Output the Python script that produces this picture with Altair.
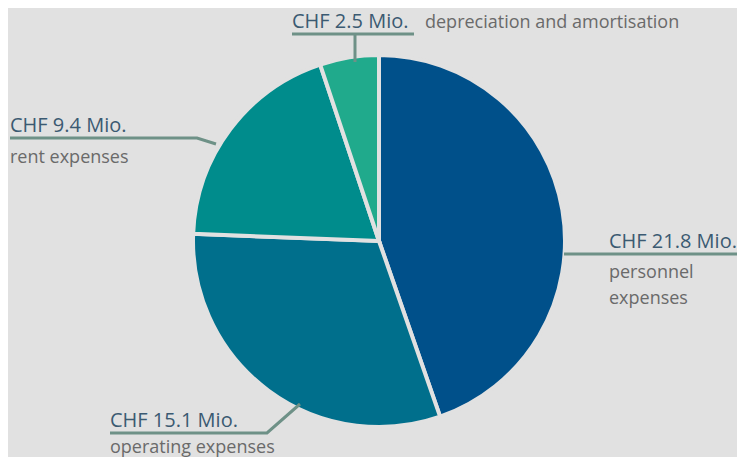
import altair as alt
import pandas as pd

# ---- data ----
categories = ["personnel expenses", "operating expenses", "rent expenses",
              "depreciation and amortisation"]
values = [21.8, 15.1, 9.4, 2.5]
value_labels = ["CHF 21.8 Mio.", "CHF 15.1 Mio.", "CHF 9.4 Mio.", "CHF 2.5 Mio."]
desc_lines = [["personnel", "expenses"], ["operating expenses"], ["rent expenses"],
              ["depreciation and amortisation"]]
colors = ["#00508a", "#006f8c", "#008c8c", "#20aa8c"]

# ---- styling / layout (page pixel coordinates, shifted by page margin) ----
BG = "#e1e1e1"
OFF = 8
W, H = 729, 449
CENTER = (379, 241)
RADIUS = 186
VALUE_POS = [(609, 248), (110, 427), (10, 132), (292, 28)]
DESC_POS = [[(609, 278), (609, 304)], [(110, 453)], [(10, 163)], [(425, 28)]]
LEADERS = [
    [(564, 254), (745, 254)],
    [(110, 433), (267, 433), (300, 404)],
    [(10, 138), (197, 138), (216, 144)],
    [(292, 34), (414, 34)],
    [(355, 34), (355, 62)],
]
FONT = "Open Sans"

pie_df = pd.DataFrame({"category": categories, "value": values,
                       "order": list(range(len(categories)))})

pie = alt.Chart(pie_df).mark_arc(
    outerRadius=RADIUS, stroke=BG, strokeWidth=4
).encode(
    theta=alt.Theta("value:Q", stack=True),
    color=alt.Color("category:N", scale=alt.Scale(domain=categories, range=colors),
                    legend=None),
    order=alt.Order("order:Q"),
    x=alt.value(CENTER[0] - OFF),
    y=alt.value(CENTER[1] - OFF),
)

val_df = pd.DataFrame({
    "text": value_labels,
    "px": [p[0] - OFF for p in VALUE_POS],
    "py": [p[1] - OFF for p in VALUE_POS],
})
desc_rows = []
for lines, poss in zip(desc_lines, DESC_POS):
    for t, p in zip(lines, poss):
        desc_rows.append({"text": t, "px": p[0] - OFF, "py": p[1] - OFF})
desc_df = pd.DataFrame(desc_rows)

line_rows = []
for i, seg in enumerate(LEADERS):
    for j, p in enumerate(seg):
        line_rows.append({"seg": i, "k": j, "px": p[0] - OFF, "py": p[1] - OFF})
line_df = pd.DataFrame(line_rows)

X = alt.X("px:Q", scale=None, axis=None)
Y = alt.Y("py:Q", scale=None, axis=None)

leaders = alt.Chart(line_df).mark_line(
    color="#6e9187", strokeWidth=3, strokeCap="butt"
).encode(x=X, y=Y, detail="seg:N", order="k:Q")

vals = alt.Chart(val_df).mark_text(
    align="left", baseline="alphabetic", font=FONT, fontSize=20, color="#3b5a72"
).encode(x=X, y=Y, text="text:N")

descs = alt.Chart(desc_df).mark_text(
    align="left", baseline="alphabetic", font=FONT, fontSize=18, color="#6a6a6a"
).encode(x=X, y=Y, text="text:N")

chart = alt.layer(pie, leaders, vals, descs).properties(
    width=W, height=H, padding=0, autosize=alt.AutoSizeParams(type="none"),
    background=BG,
).configure_view(stroke=None)

chart.save("out.html", embed_options={"renderer": "svg", "actions": False})
